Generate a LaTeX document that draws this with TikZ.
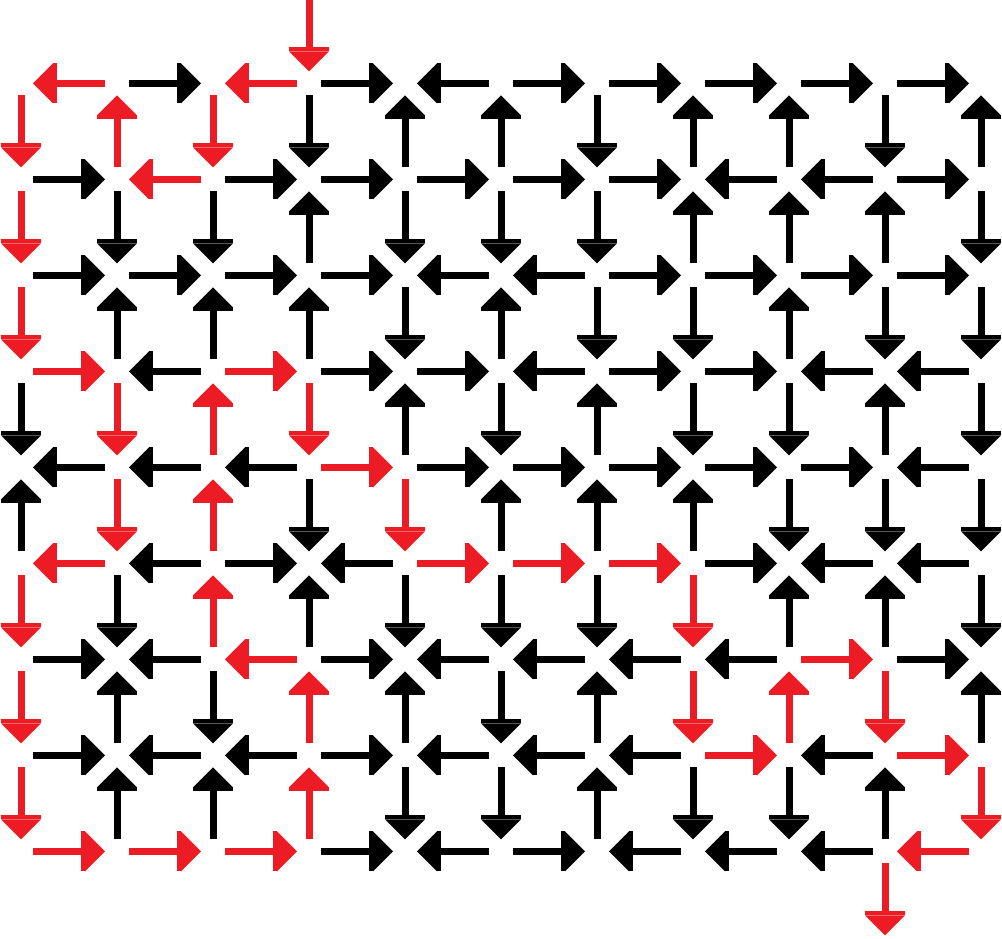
\documentclass[tikz,border=0pt]{standalone}
\usetikzlibrary{arrows.meta}
\definecolor{pathred}{RGB}{237,28,36}
\tikzset{
  arr/.style={line width=7pt, shorten <=12pt, shorten >=12pt,
    -{Rectangle[width=40pt,length=4pt,line width=0pt]Triangle[width=40pt,length=20pt,line width=0pt]}},
  blk/.style={arr, draw=black},
  rd/.style={arr, draw=pathred}
}
\begin{document}
\begin{tikzpicture}[x=1pt,y=1pt]
\fill[white] (0,0) rectangle (1002,-938);
\useasboundingbox (0,0) rectangle (1002,-938);
\foreach \c in {0,...,10}{
  \foreach \r in {0,...,8}{
    \coordinate (n-\c-\r) at ({21+96*\c}, {-83.3-96*\r});
  }
}
\coordinate (in) at (309, 12.7);
\coordinate (out) at (885, -947.3);
% black horizontal
\foreach \a/\b in {
 1-0/2-0, 3-0/4-0, 5-0/4-0, 5-0/6-0, 6-0/7-0, 7-0/8-0, 8-0/9-0, 9-0/10-0,
 0-1/1-1, 2-1/3-1, 3-1/4-1, 4-1/5-1, 5-1/6-1, 6-1/7-1, 8-1/7-1, 9-1/8-1, 9-1/10-1,
 0-2/1-2, 1-2/2-2, 2-2/3-2, 3-2/4-2, 5-2/4-2, 6-2/5-2, 6-2/7-2, 7-2/8-2, 8-2/9-2, 9-2/10-2,
 2-3/1-3, 3-3/4-3, 4-3/5-3, 6-3/5-3, 6-3/7-3, 7-3/8-3, 9-3/8-3, 10-3/9-3,
 1-4/0-4, 2-4/1-4, 3-4/2-4, 4-4/5-4, 5-4/6-4, 6-4/7-4, 7-4/8-4, 8-4/9-4, 10-4/9-4,
 2-5/1-5, 2-5/3-5, 4-5/3-5, 7-5/8-5, 9-5/8-5, 10-5/9-5,
 0-6/1-6, 2-6/1-6, 3-6/4-6, 5-6/4-6, 6-6/5-6, 7-6/6-6, 8-6/7-6, 9-6/10-6,
 0-7/1-7, 2-7/1-7, 3-7/2-7, 3-7/4-7, 5-7/4-7, 6-7/5-7, 7-7/6-7, 9-7/8-7,
 3-8/4-8, 5-8/4-8, 5-8/6-8, 7-8/6-8, 8-8/7-8, 9-8/8-8}
 {\draw[blk] (n-\a) -- (n-\b);}
% black vertical
\foreach \a/\b in {
 3-0/3-1, 4-1/4-0, 5-1/5-0, 6-0/6-1, 7-1/7-0, 8-1/8-0, 9-0/9-1, 10-1/10-0,
 1-1/1-2, 2-1/2-2, 3-2/3-1, 4-1/4-2, 5-1/5-2, 6-1/6-2, 7-2/7-1, 8-2/8-1, 9-2/9-1, 10-1/10-2,
 1-3/1-2, 2-3/2-2, 3-3/3-2, 4-2/4-3, 5-3/5-2, 6-2/6-3, 7-2/7-3, 8-3/8-2, 9-2/9-3, 10-2/10-3,
 0-3/0-4, 4-4/4-3, 5-3/5-4, 6-4/6-3, 7-3/7-4, 8-3/8-4, 9-4/9-3, 10-3/10-4,
 0-5/0-4, 3-4/3-5, 5-5/5-4, 6-5/6-4, 7-5/7-4, 8-4/8-5, 9-4/9-5, 10-4/10-5,
 1-5/1-6, 3-6/3-5, 4-5/4-6, 5-5/5-6, 6-5/6-6, 8-6/8-5, 9-6/9-5, 10-5/10-6,
 1-7/1-6, 2-6/2-7, 4-7/4-6, 5-6/5-7, 6-7/6-6, 10-7/10-6,
 1-8/1-7, 2-8/2-7, 4-7/4-8, 5-7/5-8, 6-8/6-7, 7-7/7-8, 8-7/8-8, 9-8/9-7}
 {\draw[blk] (n-\a) -- (n-\b);}
% red path
\draw[rd] (in) -- (n-3-0);
\foreach \a/\b in {
 3-0/2-0, 2-0/2-1, 2-1/1-1, 1-1/1-0, 1-0/0-0, 0-0/0-1, 0-1/0-2, 0-2/0-3,
 0-3/1-3, 1-3/1-4, 1-4/1-5, 1-5/0-5, 0-5/0-6, 0-6/0-7, 0-7/0-8,
 0-8/1-8, 1-8/2-8, 2-8/3-8, 3-8/3-7, 3-7/3-6, 3-6/2-6, 2-6/2-5, 2-5/2-4, 2-4/2-3,
 2-3/3-3, 3-3/3-4, 3-4/4-4, 4-4/4-5, 4-5/5-5, 5-5/6-5, 6-5/7-5, 7-5/7-6, 7-6/7-7,
 7-7/8-7, 8-7/8-6, 8-6/9-6, 9-6/9-7, 9-7/10-7, 10-7/10-8, 10-8/9-8}
 {\draw[rd] (n-\a) -- (n-\b);}
\draw[rd] (n-9-8) -- (out);
\end{tikzpicture}
\end{document}
